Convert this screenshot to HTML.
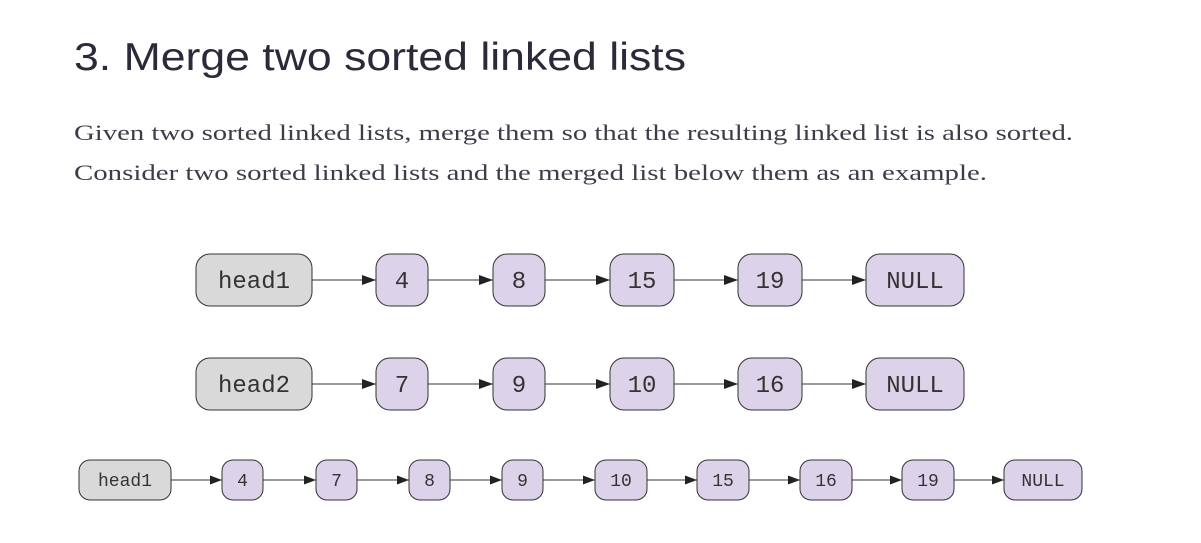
<!DOCTYPE html>
<html><head><meta charset="utf-8"><style>
html,body{margin:0;padding:0;background:#fff;width:1201px;height:543px;overflow:hidden}
</style></head><body>
<svg width="1201" height="543" viewBox="0 0 1201 543" xmlns="http://www.w3.org/2000/svg">
<defs><marker id="a" markerWidth="14" markerHeight="10" refX="14" refY="5" orient="auto" markerUnits="userSpaceOnUse"><path d="M0,0 L14,5 L0,10 z" fill="#222"/></marker>
<marker id="b" markerWidth="12" markerHeight="9" refX="12" refY="4.5" orient="auto" markerUnits="userSpaceOnUse"><path d="M0,0 L12,4.5 L0,9 z" fill="#222"/></marker></defs>
<text x="74" y="70" font-family="Liberation Sans, sans-serif" font-size="39" fill="#2b2a3a" textLength="612" lengthAdjust="spacingAndGlyphs">3. Merge two sorted linked lists</text>
<text x="74" y="140" font-family="Liberation Serif, serif" font-size="22" fill="#3d3d4a" textLength="999" lengthAdjust="spacingAndGlyphs">Given two sorted linked lists, merge them so that the resulting linked list is also sorted.</text>
<text x="74" y="180" font-family="Liberation Serif, serif" font-size="22" fill="#3d3d4a" textLength="913" lengthAdjust="spacingAndGlyphs">Consider two sorted linked lists and the merged list below them as an example.</text>
<g font-family="Liberation Mono, monospace" text-anchor="middle" stroke-width="1">
<g font-size="24">
<rect x="196" y="254" width="116" height="52" rx="14" fill="#d9d9d9" stroke="#333"/><text x="254" y="288" fill="#333">head1</text>
<rect x="376" y="254" width="52" height="52" rx="14" fill="#dcd3ea" stroke="#333"/><text x="402" y="288" fill="#333">4</text>
<rect x="493" y="254" width="52" height="52" rx="14" fill="#dcd3ea" stroke="#333"/><text x="519" y="288" fill="#333">8</text>
<rect x="610" y="254" width="64" height="52" rx="14" fill="#dcd3ea" stroke="#333"/><text x="642" y="288" fill="#333">15</text>
<rect x="738" y="254" width="64" height="52" rx="14" fill="#dcd3ea" stroke="#333"/><text x="770" y="288" fill="#333">19</text>
<rect x="866" y="254" width="98" height="52" rx="14" fill="#dcd3ea" stroke="#333"/><text x="915" y="288" fill="#333">NULL</text>
<g stroke="#333" marker-end="url(#a)">
<line x1="312" y1="280" x2="376" y2="280"/><line x1="428" y1="280" x2="493" y2="280"/><line x1="545" y1="280" x2="610" y2="280"/><line x1="674" y1="280" x2="738" y2="280"/><line x1="802" y1="280" x2="866" y2="280"/>
</g>
<rect x="196" y="358" width="116" height="52" rx="14" fill="#d9d9d9" stroke="#333"/><text x="254" y="392" fill="#333">head2</text>
<rect x="376" y="358" width="52" height="52" rx="14" fill="#dcd3ea" stroke="#333"/><text x="402" y="392" fill="#333">7</text>
<rect x="493" y="358" width="52" height="52" rx="14" fill="#dcd3ea" stroke="#333"/><text x="519" y="392" fill="#333">9</text>
<rect x="610" y="358" width="64" height="52" rx="14" fill="#dcd3ea" stroke="#333"/><text x="642" y="392" fill="#333">10</text>
<rect x="738" y="358" width="64" height="52" rx="14" fill="#dcd3ea" stroke="#333"/><text x="770" y="392" fill="#333">16</text>
<rect x="866" y="358" width="98" height="52" rx="14" fill="#dcd3ea" stroke="#333"/><text x="915" y="392" fill="#333">NULL</text>
<g stroke="#333" marker-end="url(#a)">
<line x1="312" y1="384" x2="376" y2="384"/><line x1="428" y1="384" x2="493" y2="384"/><line x1="545" y1="384" x2="610" y2="384"/><line x1="674" y1="384" x2="738" y2="384"/><line x1="802" y1="384" x2="866" y2="384"/>
</g>
</g>
<g font-size="18">
<rect x="79" y="460" width="92" height="40" rx="11" fill="#d9d9d9" stroke="#333"/><text x="125" y="486" fill="#333">head1</text>
<rect x="222" y="460" width="41" height="40" rx="11" fill="#dcd3ea" stroke="#333"/><text x="242.5" y="486" fill="#333">4</text>
<rect x="316" y="460" width="41" height="40" rx="11" fill="#dcd3ea" stroke="#333"/><text x="336.5" y="486" fill="#333">7</text>
<rect x="409" y="460" width="41" height="40" rx="11" fill="#dcd3ea" stroke="#333"/><text x="429.5" y="486" fill="#333">8</text>
<rect x="502" y="460" width="41" height="40" rx="11" fill="#dcd3ea" stroke="#333"/><text x="522.5" y="486" fill="#333">9</text>
<rect x="595" y="460" width="52" height="40" rx="11" fill="#dcd3ea" stroke="#333"/><text x="621" y="486" fill="#333">10</text>
<rect x="697" y="460" width="52" height="40" rx="11" fill="#dcd3ea" stroke="#333"/><text x="723" y="486" fill="#333">15</text>
<rect x="800" y="460" width="52" height="40" rx="11" fill="#dcd3ea" stroke="#333"/><text x="826" y="486" fill="#333">16</text>
<rect x="902" y="460" width="52" height="40" rx="11" fill="#dcd3ea" stroke="#333"/><text x="928" y="486" fill="#333">19</text>
<rect x="1004" y="460" width="78" height="40" rx="11" fill="#dcd3ea" stroke="#333"/><text x="1043" y="486" fill="#333">NULL</text>
<g stroke="#333" marker-end="url(#b)">
<line x1="171" y1="480" x2="222" y2="480"/><line x1="263" y1="480" x2="316" y2="480"/><line x1="357" y1="480" x2="409" y2="480"/><line x1="450" y1="480" x2="502" y2="480"/><line x1="543" y1="480" x2="595" y2="480"/><line x1="647" y1="480" x2="697" y2="480"/><line x1="749" y1="480" x2="800" y2="480"/><line x1="852" y1="480" x2="902" y2="480"/><line x1="954" y1="480" x2="1004" y2="480"/>
</g>
</g>
</g>
</svg>
</body></html>
